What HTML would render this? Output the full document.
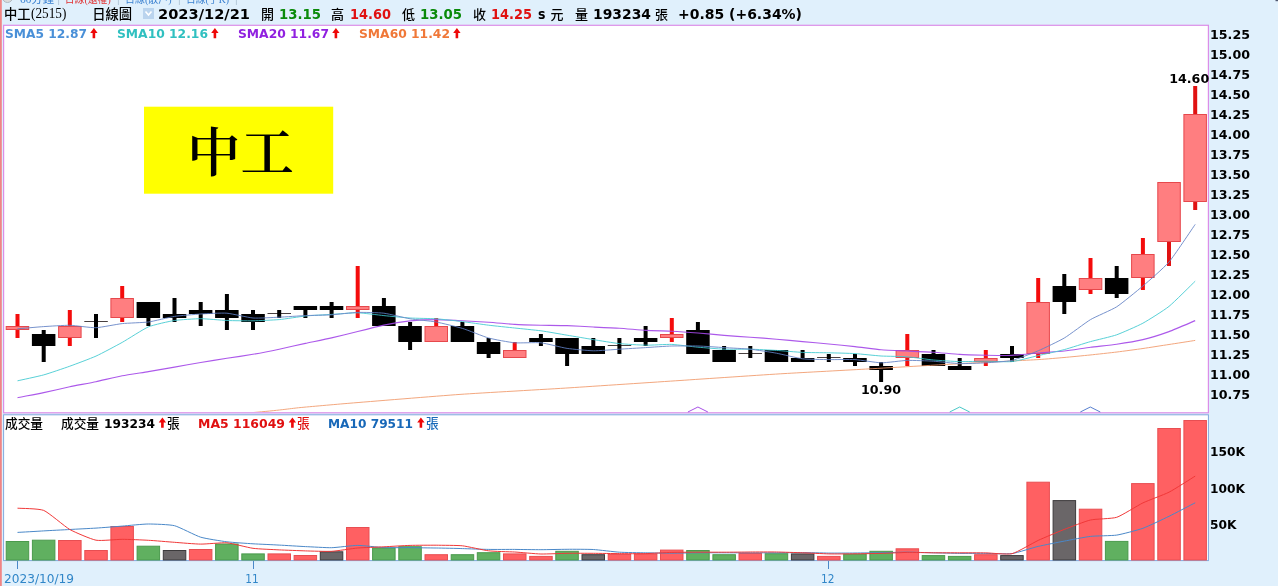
<!DOCTYPE html>
<html lang="zh-Hant"><head><meta charset="utf-8"><title>中工(2515) 日線圖</title>
<style>
html,body{margin:0;padding:0;background:#e0f0fc;}
body{width:1278px;height:586px;overflow:hidden;position:relative;}
svg{display:block;position:absolute;left:0;top:0;}
.vb{font-family:"DejaVu Sans","Liberation Sans",sans-serif;font-weight:bold;}
.vr{font-family:"DejaVu Sans","Liberation Sans",sans-serif;font-weight:normal;}
.ming{font-family:"Liberation Serif","Noto Serif CJK TC","Noto Serif CJK SC",serif;}
.hei{font-family:"Liberation Serif","Noto Sans CJK TC","Noto Sans CJK SC",sans-serif;}
</style></head><body>
<svg width="1278" height="586" viewBox="0 0 1278 586">
<defs><clipPath id="cp"><rect x="4.2" y="25.8" width="1203.2" height="386.3"/></clipPath>
<clipPath id="cv"><rect x="4.2" y="415.6" width="1203.2" height="144.5"/></clipPath></defs>
<rect x="0" y="0" width="1278" height="586" fill="#e0f0fc"/>
<rect x="1275.5" y="0" width="2.5" height="1.2" fill="#505870"/>
<rect x="0" y="0" width="1.8" height="586" fill="#f08585"/>
<rect x="3.6" y="25.3" width="1204.8" height="387.5" fill="#ffffff" stroke="#dc8ee8" stroke-width="1.2"/>
<rect x="3.6" y="414.8" width="1204.8" height="145.8" fill="#ffffff" stroke="#80a8de" stroke-width="1"/>
<g class="hei" font-size="11">
<circle cx="7.5" cy="-2.5" r="5" fill="#dcdcdc" stroke="#b0b8c0" stroke-width="1"/>
<text x="20" y="2.6" textLength="34" lengthAdjust="spacingAndGlyphs" fill="#3a80d0">60分鐘</text>
<text x="57.5" y="2.6" textLength="2.5" lengthAdjust="spacingAndGlyphs" fill="#a0b4c8">|</text>
<text x="64.7" y="2.6" textLength="46" lengthAdjust="spacingAndGlyphs" fill="#e03030">日線(還權)</text>
<text x="117" y="2.6" textLength="2.5" lengthAdjust="spacingAndGlyphs" fill="#a0b4c8">|</text>
<text x="125" y="2.6" textLength="46.5" lengthAdjust="spacingAndGlyphs" fill="#3a80d0">日線(散戶)</text>
<text x="178" y="2.6" textLength="2.5" lengthAdjust="spacingAndGlyphs" fill="#a0b4c8">|</text>
<text x="186" y="2.6" textLength="43" lengthAdjust="spacingAndGlyphs" fill="#3a80d0">日線(手K)</text>
<text x="235" y="2.6" textLength="2.5" lengthAdjust="spacingAndGlyphs" fill="#a0b4c8">|</text>
</g>
<g class="hei" font-size="13.33" font-weight="500" fill="#000">
<text x="4" y="18.6">中工</text>
<text class="ming" x="31" y="17.8" font-size="14" font-weight="normal" textLength="35.3" lengthAdjust="spacingAndGlyphs">(2515)</text>
<text x="92.2" y="18.6">日線圖</text>
</g>
<rect x="143" y="8" width="11" height="11" fill="#bad4ee"/>
<path d="M145.5 11.5 L148.5 15 L151.5 11.5" fill="none" stroke="#ffffff" stroke-width="1.6"/>
<g class="vb" font-size="13.8">
<text x="158" y="19.3" textLength="92" lengthAdjust="spacingAndGlyphs" fill="#000">2023/12/21</text>
<text class="hei" font-weight="500" font-size="13" x="261" y="18.6" fill="#000">開</text>
<text x="279" y="19.3" textLength="42" lengthAdjust="spacingAndGlyphs" fill="#0a8a0a">13.15</text>
<text class="hei" font-weight="500" font-size="13" x="331" y="18.6" fill="#000">高</text>
<text x="350" y="19.3" textLength="41" lengthAdjust="spacingAndGlyphs" fill="#e01010">14.60</text>
<text class="hei" font-weight="500" font-size="13" x="402" y="18.6" fill="#000">低</text>
<text x="420" y="19.3" textLength="42" lengthAdjust="spacingAndGlyphs" fill="#0a8a0a">13.05</text>
<text class="hei" font-weight="500" font-size="13" x="473" y="18.6" fill="#000">收</text>
<text x="491" y="19.3" textLength="41" lengthAdjust="spacingAndGlyphs" fill="#e01010">14.25</text>
<text x="538" y="19.3" textLength="7.5" lengthAdjust="spacingAndGlyphs" fill="#000">s</text>
<text class="hei" font-weight="500" font-size="13" x="550.5" y="18.6" fill="#000">元</text>
<text class="hei" font-weight="500" font-size="13" x="575" y="18.6" fill="#000">量</text>
<text x="593" y="19.3" textLength="58" lengthAdjust="spacingAndGlyphs" fill="#000">193234</text>
<text class="hei" font-weight="500" font-size="13" x="655" y="18.6" fill="#000">張</text>
<text x="678" y="19.3" textLength="124" lengthAdjust="spacingAndGlyphs" fill="#000">+0.85 (+6.34%)</text>
</g>
<g class="vb" font-size="12">
<text x="5" y="38.4" textLength="82" lengthAdjust="spacingAndGlyphs" fill="#4a90d8">SMA5 12.87</text>
<path d="M93.9 28 l3.7 5 h-2.4 v5.2 h-2.6 v-5.2 h-2.4 z" fill="#ee0808"/>
<text x="117" y="38.4" textLength="91" lengthAdjust="spacingAndGlyphs" fill="#30c0c0">SMA10 12.16</text>
<path d="M214.9 28 l3.7 5 h-2.4 v5.2 h-2.6 v-5.2 h-2.4 z" fill="#ee0808"/>
<text x="238" y="38.4" textLength="91" lengthAdjust="spacingAndGlyphs" fill="#9020e0">SMA20 11.67</text>
<path d="M335.9 28 l3.7 5 h-2.4 v5.2 h-2.6 v-5.2 h-2.4 z" fill="#ee0808"/>
<text x="359" y="38.4" textLength="91" lengthAdjust="spacingAndGlyphs" fill="#f07838">SMA60 11.42</text>
<path d="M456.9 28 l3.7 5 h-2.4 v5.2 h-2.6 v-5.2 h-2.4 z" fill="#ee0808"/>
</g>
<rect x="144" y="106.7" width="189.2" height="87" fill="#ffff00"/>
<text class="ming" x="187" y="171.5" font-size="53.5" font-weight="600" fill="#000" textLength="107" lengthAdjust="spacingAndGlyphs">中工</text>
<g shape-rendering="auto">
<rect x="15.5" y="314.0" width="4" height="24.0" fill="#f40c0c"/>
<rect x="6.2" y="326.5" width="22.5" height="3.0" fill="#ff7e80" stroke="#e6484c" stroke-width="1"/>
<rect x="41.7" y="330.0" width="4" height="32.0" fill="#000"/>
<rect x="31.9" y="334.0" width="23.5" height="12.0" fill="#000"/>
<rect x="67.8" y="310.0" width="4" height="36.0" fill="#f40c0c"/>
<rect x="58.6" y="326.5" width="22.5" height="11.0" fill="#ff7e80" stroke="#e6484c" stroke-width="1"/>
<rect x="84.3" y="321.0" width="23.5" height="1" fill="#484040"/>
<rect x="94.0" y="314.0" width="4" height="24.0" fill="#000"/>
<rect x="120.2" y="286.0" width="4" height="36.0" fill="#f40c0c"/>
<rect x="110.9" y="298.5" width="22.5" height="19.0" fill="#ff7e80" stroke="#e6484c" stroke-width="1"/>
<rect x="146.4" y="302.0" width="4" height="24.0" fill="#000"/>
<rect x="136.6" y="302.0" width="23.5" height="16.0" fill="#000"/>
<rect x="172.5" y="298.0" width="4" height="24.0" fill="#000"/>
<rect x="162.8" y="314.0" width="23.5" height="4.0" fill="#000"/>
<rect x="198.7" y="302.0" width="4" height="24.0" fill="#000"/>
<rect x="188.9" y="310.0" width="23.5" height="4.0" fill="#000"/>
<rect x="224.9" y="294.0" width="4" height="36.0" fill="#000"/>
<rect x="215.1" y="310.0" width="23.5" height="8.0" fill="#000"/>
<rect x="251.0" y="310.0" width="4" height="20.0" fill="#000"/>
<rect x="241.3" y="314.0" width="23.5" height="8.0" fill="#000"/>
<rect x="267.5" y="313.0" width="23.5" height="1" fill="#484040"/>
<rect x="277.2" y="310.0" width="4" height="8.0" fill="#000"/>
<rect x="303.4" y="306.0" width="4" height="12.0" fill="#000"/>
<rect x="293.6" y="306.0" width="23.5" height="4.0" fill="#000"/>
<rect x="329.6" y="302.0" width="4" height="16.0" fill="#000"/>
<rect x="319.8" y="306.0" width="23.5" height="4.0" fill="#000"/>
<rect x="355.7" y="266.0" width="4" height="52.0" fill="#f40c0c"/>
<rect x="346.5" y="306.5" width="22.5" height="3.0" fill="#ff7e80" stroke="#e6484c" stroke-width="1"/>
<rect x="381.9" y="298.0" width="4" height="28.0" fill="#000"/>
<rect x="372.1" y="306.0" width="23.5" height="20.0" fill="#000"/>
<rect x="408.1" y="322.0" width="4" height="28.0" fill="#000"/>
<rect x="398.3" y="326.0" width="23.5" height="16.0" fill="#000"/>
<rect x="434.2" y="318.0" width="4" height="24.0" fill="#f40c0c"/>
<rect x="425.0" y="326.5" width="22.5" height="15.0" fill="#ff7e80" stroke="#e6484c" stroke-width="1"/>
<rect x="460.4" y="322.0" width="4" height="20.0" fill="#000"/>
<rect x="450.7" y="326.0" width="23.5" height="16.0" fill="#000"/>
<rect x="486.6" y="338.0" width="4" height="20.0" fill="#000"/>
<rect x="476.8" y="342.0" width="23.5" height="12.0" fill="#000"/>
<rect x="512.7" y="342.0" width="4" height="16.0" fill="#f40c0c"/>
<rect x="503.5" y="350.5" width="22.5" height="7.0" fill="#ff7e80" stroke="#e6484c" stroke-width="1"/>
<rect x="538.9" y="334.0" width="4" height="12.0" fill="#000"/>
<rect x="529.2" y="338.0" width="23.5" height="4.0" fill="#000"/>
<rect x="565.1" y="338.0" width="4" height="28.0" fill="#000"/>
<rect x="555.3" y="338.0" width="23.5" height="16.0" fill="#000"/>
<rect x="591.3" y="338.0" width="4" height="16.0" fill="#000"/>
<rect x="581.5" y="346.0" width="23.5" height="8.0" fill="#000"/>
<rect x="607.7" y="345.0" width="23.5" height="1" fill="#484040"/>
<rect x="617.4" y="338.0" width="4" height="16.0" fill="#000"/>
<rect x="643.6" y="326.0" width="4" height="20.0" fill="#000"/>
<rect x="633.9" y="338.0" width="23.5" height="4.0" fill="#000"/>
<rect x="669.8" y="318.0" width="4" height="24.0" fill="#f40c0c"/>
<rect x="660.5" y="334.5" width="22.5" height="3.0" fill="#ff7e80" stroke="#e6484c" stroke-width="1"/>
<rect x="695.9" y="322.0" width="4" height="32.0" fill="#000"/>
<rect x="686.2" y="330.0" width="23.5" height="24.0" fill="#000"/>
<rect x="722.1" y="346.0" width="4" height="16.0" fill="#000"/>
<rect x="712.4" y="350.0" width="23.5" height="12.0" fill="#000"/>
<rect x="738.5" y="353.0" width="23.5" height="1" fill="#484040"/>
<rect x="748.3" y="346.0" width="4" height="12.0" fill="#000"/>
<rect x="774.5" y="350.0" width="4" height="12.0" fill="#000"/>
<rect x="764.7" y="350.0" width="23.5" height="12.0" fill="#000"/>
<rect x="800.6" y="350.0" width="4" height="12.0" fill="#000"/>
<rect x="790.9" y="358.0" width="23.5" height="4.0" fill="#000"/>
<rect x="817.1" y="357.0" width="23.5" height="1" fill="#484040"/>
<rect x="826.8" y="354.0" width="4" height="8.0" fill="#000"/>
<rect x="853.0" y="354.0" width="4" height="12.0" fill="#000"/>
<rect x="843.2" y="358.0" width="23.5" height="4.0" fill="#000"/>
<rect x="879.1" y="362.0" width="4" height="20.0" fill="#000"/>
<rect x="869.4" y="366.0" width="23.5" height="4.0" fill="#000"/>
<rect x="905.3" y="334.0" width="4" height="32.0" fill="#f40c0c"/>
<rect x="896.1" y="350.5" width="22.5" height="7.0" fill="#ff7e80" stroke="#e6484c" stroke-width="1"/>
<rect x="931.5" y="350.0" width="4" height="16.0" fill="#000"/>
<rect x="921.7" y="354.0" width="23.5" height="12.0" fill="#000"/>
<rect x="957.7" y="358.0" width="4" height="12.0" fill="#000"/>
<rect x="947.9" y="366.0" width="23.5" height="4.0" fill="#000"/>
<rect x="983.8" y="350.0" width="4" height="16.0" fill="#f40c0c"/>
<rect x="974.6" y="358.5" width="22.5" height="3.0" fill="#ff7e80" stroke="#e6484c" stroke-width="1"/>
<rect x="1010.0" y="346.0" width="4" height="16.0" fill="#000"/>
<rect x="1000.2" y="354.0" width="23.5" height="4.0" fill="#000"/>
<rect x="1036.2" y="278.0" width="4" height="80.0" fill="#f40c0c"/>
<rect x="1026.9" y="302.5" width="22.5" height="51.0" fill="#ff7e80" stroke="#e6484c" stroke-width="1"/>
<rect x="1062.3" y="274.0" width="4" height="40.0" fill="#000"/>
<rect x="1052.6" y="286.0" width="23.5" height="16.0" fill="#000"/>
<rect x="1088.5" y="258.0" width="4" height="36.0" fill="#f40c0c"/>
<rect x="1079.3" y="278.5" width="22.5" height="11.0" fill="#ff7e80" stroke="#e6484c" stroke-width="1"/>
<rect x="1114.7" y="266.0" width="4" height="32.0" fill="#000"/>
<rect x="1104.9" y="278.0" width="23.5" height="16.0" fill="#000"/>
<rect x="1140.9" y="238.0" width="4" height="52.0" fill="#f40c0c"/>
<rect x="1131.6" y="254.5" width="22.5" height="23.0" fill="#ff7e80" stroke="#e6484c" stroke-width="1"/>
<rect x="1167.0" y="182.0" width="4" height="84.0" fill="#e01212"/>
<rect x="1157.8" y="182.5" width="22.5" height="59.0" fill="#ff7e80" stroke="#e6484c" stroke-width="1"/>
<rect x="1193.2" y="86.0" width="4" height="124.0" fill="#e01212"/>
<rect x="1183.9" y="114.5" width="22.5" height="87.0" fill="#ff7e80" stroke="#e6484c" stroke-width="1"/>
</g>
<g clip-path="url(#cp)" fill="none" stroke-width="0.95" stroke-linejoin="round" opacity="0.9">
<path stroke="#f09868" d="M17.5 432.5 C39.1 430.7 231.6 414.4 257.0 412.2 C282.4 410.0 291.6 408.4 300.0 407.6 C308.4 406.8 335.6 404.4 350.0 403.2 C364.4 402.0 440.2 395.8 460.0 394.4 C479.8 393.0 550.2 389.1 570.0 387.8 C589.8 386.5 660.7 381.8 680.0 380.5 C699.3 379.2 767.0 374.6 784.0 373.6 C801.0 372.6 851.9 369.9 869.0 368.9 C886.1 367.9 958.8 363.7 974.0 362.9 C989.2 362.1 1029.9 360.1 1038.0 359.6 C1046.1 359.1 1059.3 357.9 1064.0 357.5 C1068.7 357.1 1085.2 355.5 1090.0 355.0 C1094.8 354.5 1112.2 352.6 1117.0 352.0 C1121.8 351.4 1138.3 349.2 1143.0 348.5 C1147.7 347.8 1164.3 345.2 1169.0 344.5 C1173.7 343.8 1192.8 340.8 1195.2 340.4"/>
<path stroke="#a448e8" stroke-width="1.15" d="M17.5 397.7 C19.9 397.2 39.0 393.6 43.7 392.6 C48.4 391.6 65.1 387.8 69.8 386.8 C74.6 385.8 91.3 382.7 96.0 381.7 C100.7 380.7 117.5 376.7 122.2 375.8 C126.9 374.9 143.6 372.4 148.4 371.6 C153.1 370.8 169.8 367.9 174.5 367.1 C179.2 366.3 196.0 363.3 200.7 362.5 C205.4 361.7 222.2 359.0 226.9 358.3 C231.6 357.6 248.3 355.1 253.0 354.3 C257.7 353.5 274.5 350.2 279.2 349.2 C283.9 348.2 300.7 344.4 305.4 343.4 C310.1 342.4 326.8 339.0 331.6 337.9 C336.3 336.8 353.0 332.7 357.7 331.5 C362.4 330.3 379.2 326.1 383.9 325.1 C388.6 324.1 405.4 321.4 410.1 320.9 C414.8 320.4 431.5 319.6 436.2 319.6 C440.9 319.6 457.7 320.6 462.4 320.8 C467.1 321.0 483.9 321.9 488.6 322.2 C493.3 322.5 510.0 324.1 514.7 324.4 C519.5 324.7 536.2 325.1 540.9 325.2 C545.6 325.3 562.4 325.4 567.1 325.6 C571.8 325.8 588.6 326.8 593.3 327.0 C598.0 327.2 614.7 327.9 619.4 328.2 C624.1 328.5 640.9 330.1 645.6 330.4 C650.3 330.7 667.1 331.0 671.8 331.2 C676.5 331.4 693.2 332.6 697.9 333.0 C702.7 333.4 719.4 335.0 724.1 335.4 C728.8 335.8 745.6 336.9 750.3 337.2 C755.0 337.5 771.7 338.8 776.5 339.2 C781.2 339.6 797.9 341.2 802.6 341.6 C807.3 342.0 824.1 343.6 828.8 344.0 C833.5 344.4 850.3 346.1 855.0 346.6 C859.7 347.1 876.4 349.4 881.1 349.8 C885.9 350.2 902.6 350.8 907.3 351.0 C912.0 351.2 928.8 351.9 933.5 352.2 C938.2 352.5 954.9 354.1 959.7 354.4 C964.4 354.7 981.1 355.1 985.8 355.2 C990.5 355.3 1007.3 355.6 1012.0 355.4 C1016.7 355.2 1033.5 353.4 1038.2 353.0 C1042.9 352.6 1059.6 351.5 1064.3 351.0 C1069.1 350.5 1085.8 347.8 1090.5 347.2 C1095.2 346.6 1112.0 344.9 1116.7 344.2 C1121.4 343.5 1138.1 340.7 1142.9 339.6 C1147.6 338.5 1164.3 333.3 1169.0 331.6 C1173.7 329.9 1192.8 321.6 1195.2 320.6"/>
<path stroke="#3cc8d0" d="M17.5 380.8 C19.9 380.3 39.0 376.2 43.7 374.9 C48.4 373.6 65.1 367.9 69.8 366.2 C74.6 364.5 91.3 358.2 96.0 356.1 C100.7 354.0 117.5 345.0 122.2 342.4 C126.9 339.8 143.6 328.9 148.4 326.9 C153.1 324.9 169.8 321.2 174.5 320.5 C179.2 319.8 196.0 318.7 200.7 318.7 C205.4 318.7 222.2 320.3 226.9 320.5 C231.6 320.7 248.3 320.9 253.0 320.8 C257.7 320.7 274.5 320.0 279.2 319.6 C283.9 319.2 300.7 316.5 305.4 316.0 C310.1 315.5 326.8 314.7 331.6 314.4 C336.3 314.1 353.0 312.7 357.7 312.8 C362.4 312.9 379.2 315.1 383.9 315.6 C388.6 316.1 405.4 317.7 410.1 318.0 C414.8 318.3 431.5 318.5 436.2 318.8 C440.9 319.1 457.7 321.0 462.4 321.6 C467.1 322.2 483.9 324.6 488.6 325.2 C493.3 325.8 510.0 327.5 514.7 328.0 C519.5 328.5 536.2 330.2 540.9 330.8 C545.6 331.4 562.4 334.4 567.1 335.2 C571.8 336.0 588.6 338.8 593.3 339.6 C598.0 340.4 614.7 343.1 619.4 343.6 C624.1 344.1 640.9 345.1 645.6 345.2 C650.3 345.3 667.1 344.2 671.8 344.4 C676.5 344.6 693.2 346.8 697.9 347.2 C702.7 347.6 719.4 349.0 724.1 349.2 C728.8 349.4 745.6 349.1 750.3 349.2 C755.0 349.3 771.7 350.1 776.5 350.4 C781.2 350.7 797.9 352.2 802.6 352.4 C807.3 352.6 824.1 352.7 828.8 352.8 C833.5 352.9 850.3 353.3 855.0 353.6 C859.7 353.9 876.4 355.7 881.1 356.0 C885.9 356.3 902.6 356.4 907.3 356.8 C912.0 357.2 928.8 359.6 933.5 360.0 C938.2 360.4 954.9 361.5 959.7 361.6 C964.4 361.7 981.1 361.2 985.8 361.2 C990.5 361.2 1007.3 362.1 1012.0 361.6 C1016.7 361.1 1033.5 356.7 1038.2 355.6 C1042.9 354.5 1059.6 350.9 1064.3 349.6 C1069.1 348.3 1085.8 342.9 1090.5 341.6 C1095.2 340.3 1112.0 336.5 1116.7 334.8 C1121.4 333.1 1138.1 325.8 1142.9 323.2 C1147.6 320.6 1164.3 310.2 1169.0 306.4 C1173.7 302.6 1192.8 283.5 1195.2 281.2"/>
<path stroke="#6080c4" d="M17.5 328.8 C19.9 328.6 39.0 326.9 43.7 326.6 C48.4 326.3 65.1 325.2 69.8 325.3 C74.6 325.4 91.3 327.9 96.0 327.7 C100.7 327.5 117.5 324.1 122.2 323.6 C126.9 323.1 143.6 322.6 148.4 322.0 C153.1 321.4 169.8 317.1 174.5 316.4 C179.2 315.7 196.0 314.3 200.7 314.0 C205.4 313.7 222.2 312.8 226.9 313.2 C231.6 313.6 248.3 317.6 253.0 318.0 C257.7 318.4 274.5 317.4 279.2 317.2 C283.9 317.0 300.7 315.8 305.4 315.6 C310.1 315.4 326.8 315.1 331.6 314.8 C336.3 314.5 353.0 312.5 357.7 312.4 C362.4 312.3 379.2 312.6 383.9 313.2 C388.6 313.8 405.4 318.0 410.1 318.8 C414.8 319.6 431.5 321.1 436.2 322.0 C440.9 322.9 457.7 327.0 462.4 328.4 C467.1 329.8 483.9 336.7 488.6 338.0 C493.3 339.3 510.0 342.4 514.7 342.8 C519.5 343.2 536.2 342.3 540.9 342.8 C545.6 343.3 562.4 347.7 567.1 348.4 C571.8 349.1 588.6 350.7 593.3 350.8 C598.0 350.9 614.7 349.5 619.4 349.2 C624.1 348.9 640.9 347.9 645.6 347.6 C650.3 347.3 667.1 346.1 671.8 346.0 C676.5 345.9 693.2 345.9 697.9 346.0 C702.7 346.1 719.4 347.3 724.1 347.6 C728.8 347.9 745.6 348.7 750.3 349.2 C755.0 349.7 771.7 352.3 776.5 353.2 C781.2 354.1 797.9 358.2 802.6 358.8 C807.3 359.4 824.1 359.5 828.8 359.6 C833.5 359.7 850.3 359.3 855.0 359.6 C859.7 359.9 876.4 362.7 881.1 362.8 C885.9 362.9 902.6 360.5 907.3 360.4 C912.0 360.3 928.8 360.9 933.5 361.2 C938.2 361.5 954.9 363.5 959.7 363.6 C964.4 363.7 981.1 363.1 985.8 362.8 C990.5 362.5 1007.3 361.5 1012.0 360.4 C1016.7 359.3 1033.5 352.8 1038.2 350.8 C1042.9 348.8 1059.6 340.8 1064.3 338.0 C1069.1 335.2 1085.8 322.4 1090.5 319.6 C1095.2 316.8 1112.0 309.8 1116.7 306.8 C1121.4 303.8 1138.1 290.0 1142.9 286.0 C1147.6 282.0 1164.3 267.5 1169.0 262.0 C1173.7 256.5 1192.8 227.8 1195.2 224.4"/>
</g>
<g class="vb" font-size="12" fill="#000">
<text x="1169.2" y="83" textLength="40" lengthAdjust="spacingAndGlyphs">14.60</text>
<text x="861" y="394" textLength="40" lengthAdjust="spacingAndGlyphs">10.90</text>
</g>
<path d="M687.9 412 L697.9 407 L707.9 412" fill="none" stroke="#a850e8" stroke-width="1"/>
<path d="M949.7 412 L959.7 407 L969.7 412" fill="none" stroke="#48c8c8" stroke-width="1"/>
<path d="M1080.3 412 L1090.3 407 L1100.3 412" fill="none" stroke="#5880d0" stroke-width="1"/>
<g class="vb" font-size="12" fill="#000">
<text x="1210" y="38.5" textLength="40" lengthAdjust="spacingAndGlyphs">15.25</text>
<text x="1210" y="58.5" textLength="40" lengthAdjust="spacingAndGlyphs">15.00</text>
<text x="1210" y="78.5" textLength="40" lengthAdjust="spacingAndGlyphs">14.75</text>
<text x="1210" y="98.5" textLength="40" lengthAdjust="spacingAndGlyphs">14.50</text>
<text x="1210" y="118.5" textLength="40" lengthAdjust="spacingAndGlyphs">14.25</text>
<text x="1210" y="138.5" textLength="40" lengthAdjust="spacingAndGlyphs">14.00</text>
<text x="1210" y="158.5" textLength="40" lengthAdjust="spacingAndGlyphs">13.75</text>
<text x="1210" y="178.5" textLength="40" lengthAdjust="spacingAndGlyphs">13.50</text>
<text x="1210" y="198.5" textLength="40" lengthAdjust="spacingAndGlyphs">13.25</text>
<text x="1210" y="218.5" textLength="40" lengthAdjust="spacingAndGlyphs">13.00</text>
<text x="1210" y="238.5" textLength="40" lengthAdjust="spacingAndGlyphs">12.75</text>
<text x="1210" y="258.5" textLength="40" lengthAdjust="spacingAndGlyphs">12.50</text>
<text x="1210" y="278.5" textLength="40" lengthAdjust="spacingAndGlyphs">12.25</text>
<text x="1210" y="298.5" textLength="40" lengthAdjust="spacingAndGlyphs">12.00</text>
<text x="1210" y="318.5" textLength="40" lengthAdjust="spacingAndGlyphs">11.75</text>
<text x="1210" y="338.5" textLength="40" lengthAdjust="spacingAndGlyphs">11.50</text>
<text x="1210" y="358.5" textLength="40" lengthAdjust="spacingAndGlyphs">11.25</text>
<text x="1210" y="378.5" textLength="40" lengthAdjust="spacingAndGlyphs">11.00</text>
<text x="1210" y="398.5" textLength="40" lengthAdjust="spacingAndGlyphs">10.75</text>
</g>
<g font-size="12">
<text class="hei" font-weight="500" font-size="12.7" x="5" y="427.8" fill="#000">成交量</text>
<text class="hei" font-weight="500" font-size="12.7" x="61" y="427.8" fill="#000">成交量</text>
<g class="vb">
<text x="104" y="428" textLength="51" lengthAdjust="spacingAndGlyphs" fill="#000">193234</text>
<path d="M162.4 417.6 l3.7 5 h-2.4 v5.2 h-2.6 v-5.2 h-2.4 z" fill="#ee0808"/>
</g>
<text class="hei" font-weight="500" font-size="12.7" x="167" y="427.8" fill="#000">張</text>
<g class="vb">
<text x="198" y="428" textLength="87" lengthAdjust="spacingAndGlyphs" fill="#e01010">MA5 116049</text>
<path d="M292.4 417.6 l3.7 5 h-2.4 v5.2 h-2.6 v-5.2 h-2.4 z" fill="#ee0808"/>
</g>
<text class="hei" font-weight="500" font-size="12.7" x="297" y="427.8" fill="#e01010">張</text>
<g class="vb">
<text x="328" y="428" textLength="85" lengthAdjust="spacingAndGlyphs" fill="#1868b8">MA10 79511</text>
<path d="M420.9 417.6 l3.7 5 h-2.4 v5.2 h-2.6 v-5.2 h-2.4 z" fill="#ee0808"/>
</g>
<text class="hei" font-weight="500" font-size="12.7" x="426" y="427.8" fill="#1868b8">張</text>
</g>
<g>
<rect x="6.2" y="541.5" width="22.5" height="18.5" fill="#60b060" stroke="#4a9a4c" stroke-width="1"/>
<rect x="32.4" y="540.2" width="22.5" height="19.8" fill="#60b060" stroke="#4a9a4c" stroke-width="1"/>
<rect x="58.6" y="540.5" width="22.5" height="19.5" fill="#ff6062" stroke="#e84e52" stroke-width="1"/>
<rect x="84.8" y="550.5" width="22.5" height="9.5" fill="#ff6062" stroke="#e84e52" stroke-width="1"/>
<rect x="110.9" y="526.5" width="22.5" height="33.5" fill="#ff6062" stroke="#e84e52" stroke-width="1"/>
<rect x="137.1" y="546.2" width="22.5" height="13.8" fill="#60b060" stroke="#4a9a4c" stroke-width="1"/>
<rect x="163.3" y="550.5" width="22.5" height="9.5" fill="#6a6668" stroke="#3c3a3c" stroke-width="1"/>
<rect x="189.4" y="549.5" width="22.5" height="10.5" fill="#ff6062" stroke="#e84e52" stroke-width="1"/>
<rect x="215.6" y="544.0" width="22.5" height="16.0" fill="#60b060" stroke="#4a9a4c" stroke-width="1"/>
<rect x="241.8" y="553.9" width="22.5" height="6.1" fill="#60b060" stroke="#4a9a4c" stroke-width="1"/>
<rect x="268.0" y="553.9" width="22.5" height="6.1" fill="#ff6062" stroke="#e84e52" stroke-width="1"/>
<rect x="294.1" y="555.5" width="22.5" height="4.5" fill="#ff6062" stroke="#e84e52" stroke-width="1"/>
<rect x="320.3" y="551.8" width="22.5" height="8.2" fill="#6a6668" stroke="#3c3a3c" stroke-width="1"/>
<rect x="346.5" y="527.5" width="22.5" height="32.5" fill="#ff6062" stroke="#e84e52" stroke-width="1"/>
<rect x="372.6" y="547.9" width="22.5" height="12.1" fill="#60b060" stroke="#4a9a4c" stroke-width="1"/>
<rect x="398.8" y="546.7" width="22.5" height="13.3" fill="#60b060" stroke="#4a9a4c" stroke-width="1"/>
<rect x="425.0" y="554.7" width="22.5" height="5.3" fill="#ff6062" stroke="#e84e52" stroke-width="1"/>
<rect x="451.2" y="554.7" width="22.5" height="5.3" fill="#60b060" stroke="#4a9a4c" stroke-width="1"/>
<rect x="477.3" y="552.7" width="22.5" height="7.3" fill="#60b060" stroke="#4a9a4c" stroke-width="1"/>
<rect x="503.5" y="553.9" width="22.5" height="6.1" fill="#ff6062" stroke="#e84e52" stroke-width="1"/>
<rect x="529.7" y="556.4" width="22.5" height="3.6" fill="#ff6062" stroke="#e84e52" stroke-width="1"/>
<rect x="555.8" y="551.3" width="22.5" height="8.7" fill="#60b060" stroke="#4a9a4c" stroke-width="1"/>
<rect x="582.0" y="554.7" width="22.5" height="5.3" fill="#6a6668" stroke="#3c3a3c" stroke-width="1"/>
<rect x="608.2" y="554.4" width="22.5" height="5.6" fill="#ff6062" stroke="#e84e52" stroke-width="1"/>
<rect x="634.4" y="553.9" width="22.5" height="6.1" fill="#ff6062" stroke="#e84e52" stroke-width="1"/>
<rect x="660.5" y="550.1" width="22.5" height="9.9" fill="#ff6062" stroke="#e84e52" stroke-width="1"/>
<rect x="686.7" y="550.5" width="22.5" height="9.5" fill="#60b060" stroke="#4a9a4c" stroke-width="1"/>
<rect x="712.9" y="554.7" width="22.5" height="5.3" fill="#60b060" stroke="#4a9a4c" stroke-width="1"/>
<rect x="739.0" y="553.5" width="22.5" height="6.5" fill="#ff6062" stroke="#e84e52" stroke-width="1"/>
<rect x="765.2" y="553.7" width="22.5" height="6.3" fill="#60b060" stroke="#4a9a4c" stroke-width="1"/>
<rect x="791.4" y="553.9" width="22.5" height="6.1" fill="#6a6668" stroke="#3c3a3c" stroke-width="1"/>
<rect x="817.6" y="556.4" width="22.5" height="3.6" fill="#ff6062" stroke="#e84e52" stroke-width="1"/>
<rect x="843.7" y="554.2" width="22.5" height="5.8" fill="#60b060" stroke="#4a9a4c" stroke-width="1"/>
<rect x="869.9" y="551.3" width="22.5" height="8.7" fill="#60b060" stroke="#4a9a4c" stroke-width="1"/>
<rect x="896.1" y="548.8" width="22.5" height="11.2" fill="#ff6062" stroke="#e84e52" stroke-width="1"/>
<rect x="922.2" y="555.6" width="22.5" height="4.4" fill="#60b060" stroke="#4a9a4c" stroke-width="1"/>
<rect x="948.4" y="556.4" width="22.5" height="3.6" fill="#60b060" stroke="#4a9a4c" stroke-width="1"/>
<rect x="974.6" y="554.7" width="22.5" height="5.3" fill="#ff6062" stroke="#e84e52" stroke-width="1"/>
<rect x="1000.7" y="555.6" width="22.5" height="4.4" fill="#6a6668" stroke="#3c3a3c" stroke-width="1"/>
<rect x="1026.9" y="482.2" width="22.5" height="77.8" fill="#ff6062" stroke="#e84e52" stroke-width="1"/>
<rect x="1053.1" y="500.6" width="22.5" height="59.4" fill="#6a6668" stroke="#3c3a3c" stroke-width="1"/>
<rect x="1079.3" y="509.2" width="22.5" height="50.8" fill="#ff6062" stroke="#e84e52" stroke-width="1"/>
<rect x="1105.4" y="541.4" width="22.5" height="18.6" fill="#60b060" stroke="#4a9a4c" stroke-width="1"/>
<rect x="1131.6" y="483.6" width="22.5" height="76.4" fill="#ff6062" stroke="#e84e52" stroke-width="1"/>
<rect x="1157.8" y="428.5" width="22.5" height="131.5" fill="#ff6062" stroke="#e84e52" stroke-width="1"/>
<rect x="1183.9" y="420.5" width="22.5" height="139.5" fill="#ff6062" stroke="#e84e52" stroke-width="1"/>
</g>
<g clip-path="url(#cv)" fill="none" stroke-width="1" stroke-linejoin="round">
<path stroke="#4a88c8" d="M17.5 532.4 C19.9 532.3 39.0 531.2 43.7 530.9 C48.4 530.6 65.1 529.8 69.8 529.5 C74.6 529.2 91.3 528.4 96.0 528.1 C100.7 527.8 117.5 526.5 122.2 526.1 C126.9 525.7 143.6 524.0 148.4 524.0 C153.1 524.0 169.8 524.5 174.5 525.7 C179.2 526.9 196.0 535.8 200.7 537.2 C205.4 538.6 222.2 541.2 226.9 541.8 C231.6 542.4 248.3 543.5 253.0 543.8 C257.7 544.1 274.5 544.8 279.2 545.1 C283.9 545.3 300.7 546.4 305.4 546.6 C310.1 546.8 326.8 547.8 331.6 547.7 C336.3 547.6 353.0 545.4 357.7 545.4 C362.4 545.4 379.2 547.4 383.9 547.6 C388.6 547.8 405.4 547.6 410.1 547.6 C414.8 547.7 431.5 548.0 436.2 548.0 C440.9 548.1 457.7 548.4 462.4 548.6 C467.1 548.7 483.9 549.4 488.6 549.4 C493.3 549.5 510.0 549.4 514.7 549.4 C519.5 549.5 536.2 549.7 540.9 549.7 C545.6 549.7 562.4 549.3 567.1 549.3 C571.8 549.2 588.6 549.3 593.3 549.5 C598.0 549.8 614.7 551.9 619.4 552.2 C624.1 552.5 640.9 552.8 645.6 552.8 C650.3 552.9 667.1 553.2 671.8 553.2 C676.5 553.2 693.2 552.8 697.9 552.8 C702.7 552.7 719.4 552.8 724.1 552.8 C728.8 552.8 745.6 552.8 750.3 552.8 C755.0 552.8 771.7 552.8 776.5 552.8 C781.2 552.8 797.9 552.5 802.6 552.6 C807.3 552.6 824.1 553.0 828.8 553.1 C833.5 553.1 850.3 553.1 855.0 553.0 C859.7 553.0 876.4 552.8 881.1 552.7 C885.9 552.6 902.6 552.2 907.3 552.2 C912.0 552.2 928.8 552.7 933.5 552.8 C938.2 552.9 954.9 553.3 959.7 553.4 C964.4 553.4 981.1 553.3 985.8 553.4 C990.5 553.4 1007.3 554.2 1012.0 553.6 C1016.7 552.9 1033.5 547.5 1038.2 546.4 C1042.9 545.3 1059.6 542.0 1064.3 541.1 C1069.1 540.2 1085.8 536.9 1090.5 536.4 C1095.2 535.8 1112.0 535.8 1116.7 535.1 C1121.4 534.4 1138.1 530.0 1142.9 528.3 C1147.6 526.6 1164.3 518.6 1169.0 516.3 C1173.7 514.0 1192.8 504.0 1195.2 502.8"/>
<path stroke="#f03838" d="M17.5 508.2 C19.9 508.4 39.0 508.5 43.7 510.4 C48.4 512.3 65.1 526.8 69.8 529.5 C74.6 532.2 91.3 539.3 96.0 540.2 C100.7 541.1 117.5 539.3 122.2 539.3 C126.9 539.3 143.6 540.0 148.4 540.3 C153.1 540.5 169.8 542.0 174.5 542.3 C179.2 542.7 196.0 544.1 200.7 544.1 C205.4 544.2 222.2 542.5 226.9 542.8 C231.6 543.2 248.3 547.7 253.0 548.3 C257.7 549.0 274.5 549.6 279.2 549.9 C283.9 550.1 300.7 550.7 305.4 550.9 C310.1 551.0 326.8 551.6 331.6 551.3 C336.3 551.1 353.0 548.4 357.7 548.0 C362.4 547.6 379.2 547.1 383.9 546.8 C388.6 546.6 405.4 545.5 410.1 545.4 C414.8 545.2 431.5 545.2 436.2 545.2 C440.9 545.3 457.7 545.3 462.4 545.8 C467.1 546.3 483.9 550.3 488.6 550.8 C493.3 551.4 510.0 551.8 514.7 552.0 C519.5 552.3 536.2 553.9 540.9 554.0 C545.6 554.1 562.4 553.4 567.1 553.3 C571.8 553.2 588.6 553.3 593.3 553.3 C598.0 553.3 614.7 553.6 619.4 553.6 C624.1 553.7 640.9 553.8 645.6 553.6 C650.3 553.5 667.1 552.5 671.8 552.4 C676.5 552.3 693.2 552.2 697.9 552.2 C702.7 552.2 719.4 552.2 724.1 552.2 C728.8 552.2 745.6 552.1 750.3 552.0 C755.0 552.0 771.7 551.9 776.5 552.0 C781.2 552.1 797.9 552.6 802.6 552.8 C807.3 552.9 824.1 553.8 828.8 553.9 C833.5 554.0 850.3 553.9 855.0 553.8 C859.7 553.8 876.4 553.5 881.1 553.4 C885.9 553.3 902.6 552.5 907.3 552.4 C912.0 552.4 928.8 552.7 933.5 552.8 C938.2 552.8 954.9 552.8 959.7 552.8 C964.4 552.8 981.1 552.8 985.8 552.9 C990.5 552.9 1007.3 554.8 1012.0 553.7 C1016.7 552.6 1033.5 542.6 1038.2 540.4 C1042.9 538.2 1059.6 531.2 1064.3 529.4 C1069.1 527.6 1085.8 521.0 1090.5 520.0 C1095.2 518.9 1112.0 518.8 1116.7 517.3 C1121.4 515.8 1138.1 505.2 1142.9 502.9 C1147.6 500.6 1164.3 494.6 1169.0 492.2 C1173.7 489.8 1192.8 477.6 1195.2 476.1"/>
</g>
<g class="vb" font-size="12" fill="#000">
<text x="1210.1" y="456.3" textLength="35" lengthAdjust="spacingAndGlyphs">150K</text>
<text x="1210.1" y="492.5" textLength="35" lengthAdjust="spacingAndGlyphs">100K</text>
<text x="1210.1" y="529.2" textLength="26.5" lengthAdjust="spacingAndGlyphs">50K</text>
</g>
<g stroke="#4a88c8" stroke-width="1">
<line x1="17.5" y1="561" x2="17.5" y2="569" />
<line x1="253.5" y1="561" x2="253.5" y2="569" />
<line x1="828.5" y1="561" x2="828.5" y2="569" />
</g>
<g class="vr" font-size="12" fill="#3086c8">
<text x="4" y="583" textLength="70" lengthAdjust="spacingAndGlyphs">2023/10/19</text>
<text x="245.3" y="583" textLength="13.5" lengthAdjust="spacingAndGlyphs">11</text>
<text x="821" y="583" textLength="13.5" lengthAdjust="spacingAndGlyphs">12</text>
</g>
</svg>
</body></html>
